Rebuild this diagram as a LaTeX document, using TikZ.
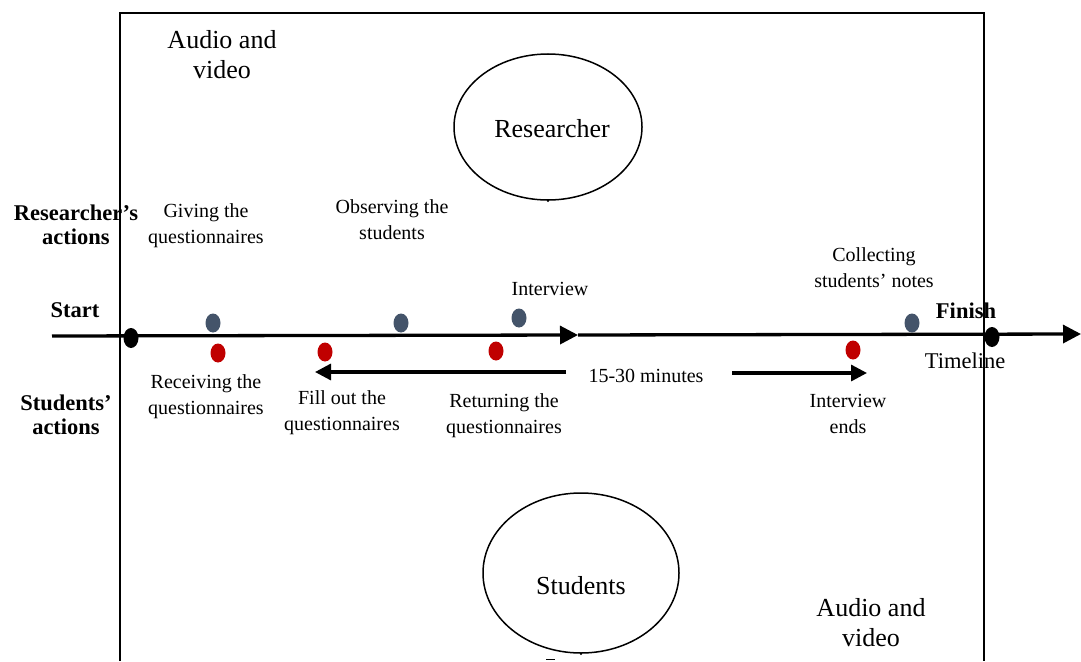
\documentclass[tikz,border=0pt]{standalone}
\usepackage{fontspec}
\setmainfont{Liberation Serif}
\usetikzlibrary{arrows.meta,shapes.geometric}
\tikzset{
  lbl/.style={inner sep=0pt, align=center, font=\fontsize{20}{26}\selectfont},
  big/.style={inner sep=0pt, align=center, font=\fontsize{26}{30}\selectfont},
  bold/.style={inner sep=0pt, align=center, font=\fontsize{22.5}{24}\selectfont\bfseries},
  blk/.style={fill=black, draw=none, ellipse, minimum width=15pt, minimum height=20pt, inner sep=0pt},
  bluedot/.style={fill=dotblue, draw=none, ellipse, minimum width=15pt, minimum height=19pt, inner sep=0pt},
  reddot/.style={fill=dotred, draw=none, ellipse, minimum width=15pt, minimum height=19pt, inner sep=0pt},
  role/.style={draw=black, line width=1.5pt, ellipse, inner sep=0pt},
  tl/.style={line width=3.3pt, -{Triangle[length=18pt,width=18pt]}},
  tlarrow/.style={line width=3.3pt, -{Triangle[length=16pt,width=16pt]}},
  frame/.style={line width=1.5pt}
}
\definecolor{dotblue}{HTML}{44546A}
\definecolor{dotred}{HTML}{C00000}
\begin{document}
\begin{tikzpicture}[x=1pt,y=-1pt]
\useasboundingbox (0,0) rectangle (1081,661);
% frame
\coordinate (fbl) at (120,661);
\coordinate (ftl) at (120,13);
\coordinate (ftr) at (984,13);
\coordinate (fbr) at (984,661);
\draw[frame] (fbl) -- (ftl) -- (ftr) -- (fbr);
% ellipses
\node[role, minimum width=188pt, minimum height=146pt] (res) at (548,127) {};
\node[big] (restxt) at (552,129) {Researcher};
\node[role, minimum width=196pt, minimum height=160pt] (stu) at (581,573) {};
\node[big] (stutxt) at (581,586) {Students};
\fill (res.south) circle (1.3pt);
\fill (stu.south) circle (1.3pt);
\coordinate (dashA) at (546,659);
\coordinate (dashB) at (555,659);
\draw[line width=1pt] (dashA) -- (dashB);
% timeline
\coordinate (tlstart) at (52,336);
\coordinate (tlmid) at (578,335);
\coordinate (tlend) at (1081,334);
\draw[tl] (tlstart) -- (tlmid);
\draw[tl] (tlmid) -- (tlend);
% dots
\node[blk] (startdot) at (131,338) {};
\node[blk] (finishdot) at (992,337) {};
\node[bluedot] (b1) at (213,323) {};
\node[bluedot] (b2) at (401,323) {};
\node[bluedot] (b3) at (519,318) {};
\node[bluedot] (b4) at (912,323) {};
\node[reddot] (r1) at (218,353) {};
\node[reddot] (r2) at (325,352) {};
\node[reddot] (r3) at (496,351) {};
\node[reddot] (r4) at (853,350) {};
% duration arrows
\node[lbl] (dur) at (646,376) {15-30 minutes};
\coordinate (lArrS) at (566,372);
\coordinate (lArrE) at (315,372);
\coordinate (rArrS) at (732,373);
\coordinate (rArrE) at (867,373);
\draw[tlarrow] (lArrS) -- (lArrE);
\draw[tlarrow] (rArrS) -- (rArrE);
% texts
\node[big] (av1) at (222,55) {Audio and\\video};
\node[big] (av2) at (871,623) {Audio and\\video};
\node[bold] (ra) at (76,225) {Researcher’s\\actions};
\node[bold] (sa) at (66,415) {Students’\\actions};
\node[bold] (start) at (75,310) {Start};
\node[bold] (finish) at (966,311) {Finish};
\node[lbl, font=\fontsize{22.5}{26}\selectfont] (timeline) at (965,361) {Timeline};
\node[lbl] (t1) at (206,226) {Giving the\\questionnaires};
\node[lbl] (t2) at (392,220) {Observing the\\students};
\node[lbl] (t3) at (550,289) {Interview};
\node[lbl] (t4) at (874,268) {Collecting\\students’ notes};
\node[lbl] (t5) at (206,397) {Receiving the\\questionnaires};
\node[lbl] (t6) at (342,413) {Fill out the\\questionnaires};
\node[lbl] (t7) at (504,416) {Returning the\\questionnaires};
\node[lbl] (t8) at (848,414) {Interview\\ends};
\end{tikzpicture}
\end{document}
